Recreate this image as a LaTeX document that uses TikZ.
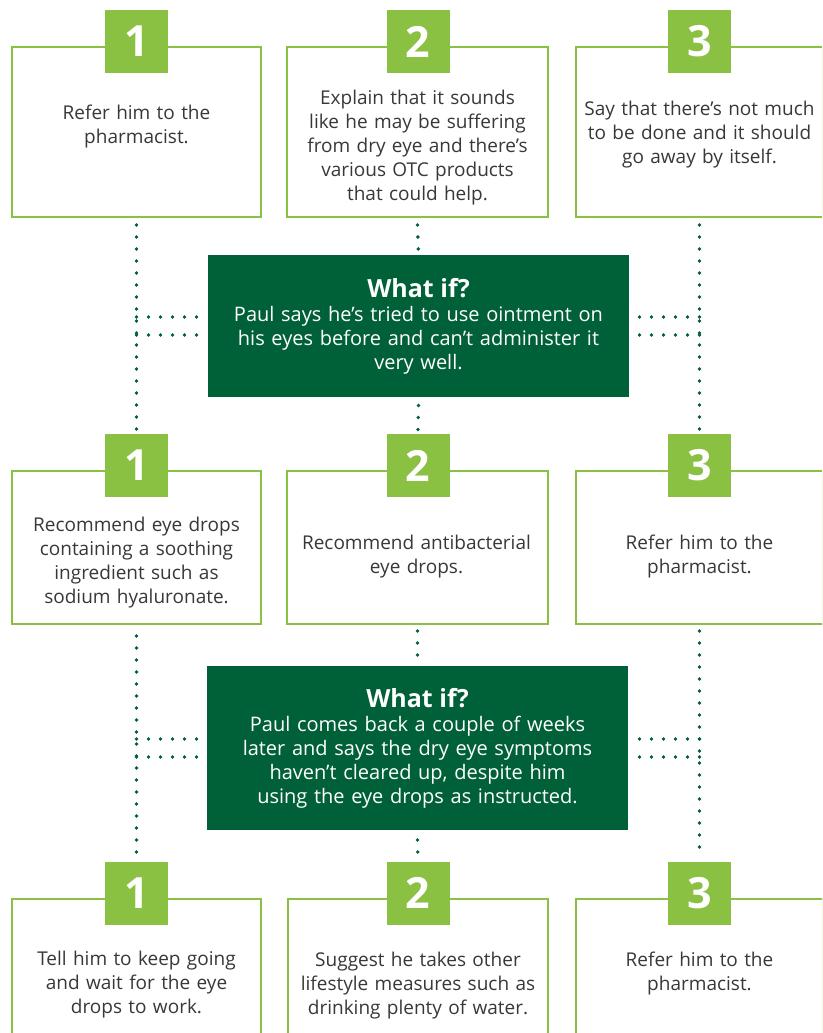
\documentclass[tikz,border=0pt]{standalone}
\usepackage{fontspec}
\setmainfont{Open Sans}
\usetikzlibrary{backgrounds}
\definecolor{lgreen}{HTML}{8BC142}
\definecolor{dgreen}{HTML}{006037}
\definecolor{tgray}{HTML}{383838}
\newcommand\whatiffont{\bfseries\fontsize{25}{25}\selectfont}
\begin{document}
\begin{tikzpicture}[x=1pt,y=-1pt,
  optbox/.style={draw=lgreen, line width=2.5pt, fill=white, inner sep=0pt, outer sep=0pt},
  numtab/.style={fill=lgreen, minimum width=63pt, minimum height=63pt, inner sep=0pt, outer sep=0pt,
    text=white, font=\bfseries\fontsize{43}{43}\selectfont},
  opttext/.style={anchor=base, text width=245pt, align=center, inner sep=0pt, text=tgray,
    font=\fontsize{19}{24}\selectfont},
  whatif/.style={fill=dgreen, minimum width=421pt, inner sep=0pt, outer sep=0pt, text=white,
    text width=415pt, align=center, font=\fontsize{20}{24}\selectfont},
  dots/.style={draw=dgreen, line width=3.9pt, line cap=round, dash pattern=on 0pt off 12pt}
]
\useasboundingbox (0,0) rectangle (822,1033);
\clip (0,0) rectangle (822,1033);

% ---------- row 1 ----------
\node[optbox, minimum width=249pt, minimum height=170pt] (b11) at (136.5,132) {};
\node[optbox, minimum width=261pt, minimum height=170pt] (b12) at (417.5,132) {};
\node[optbox, minimum width=247pt, minimum height=170pt] (b13) at (699.5,132) {};
\node[numtab] (t11) at (136.5,41.5) {1};
\node[numtab] (t12) at (418,41.5) {2};
\node[numtab] (t13) at (699.5,41.5) {3};
\node[opttext] (x11) at (136.5,119) {Refer him to the\\pharmacist.};
\node[opttext] (x12) at (417.5,104) {Explain that it sounds\\like he may be suffering\\from dry eye and there’s\\various OTC products\\that could help.};
\node[opttext] (x13) at (699.5,115) {Say that there’s not much\\to be done and it should\\go away by itself.};

% ---------- what if 1 ----------
\node[whatif, minimum height=142pt] (d1) at (418.5,326)
  {{\whatiffont What if?}\\Paul says he’s tried to use ointment on\\his eyes before and can’t administer it\\very well.};

% ---------- row 2 ----------
\node[optbox, minimum width=249pt, minimum height=153pt] (b21) at (136.5,547.5) {};
\node[optbox, minimum width=261pt, minimum height=153pt] (b22) at (417.5,547.5) {};
\node[optbox, minimum width=247pt, minimum height=153pt] (b23) at (699.5,547.5) {};
\node[numtab] (t21) at (136.5,465.5) {1};
\node[numtab] (t22) at (418,465.5) {2};
\node[numtab] (t23) at (699.5,465.5) {3};
\node[opttext] (x21) at (136.5,531) {Recommend eye drops\\containing a soothing\\ingredient such as\\sodium hyaluronate.};
\node[opttext] (x22) at (416.5,549) {Recommend antibacterial\\eye drops.};
\node[opttext] (x23) at (699.5,549) {Refer him to the\\pharmacist.};

% ---------- what if 2 ----------
\node[whatif, minimum height=164pt] (d2) at (417.5,748)
  {{\whatiffont What if?}\\Paul comes back a couple of weeks\\later and says the dry eye symptoms\\haven’t cleared up, despite him\\using the eye drops as instructed.};

% ---------- row 3 ----------
\node[optbox, minimum width=249pt, minimum height=160pt] (b31) at (136.5,979) {};
\node[optbox, minimum width=260pt, minimum height=160pt] (b32) at (418,979) {};
\node[optbox, minimum width=247pt, minimum height=160pt] (b33) at (699.5,979) {};
\node[numtab] (t31) at (136.5,893) {1};
\node[numtab] (t32) at (418,893) {2};
\node[numtab] (t33) at (699.5,893) {3};
\node[opttext] (x31) at (136.5,965) {Tell him to keep going\\and wait for the eye\\drops to work.};
\node[opttext] (x32) at (418,966.5) {Suggest he takes other\\lifestyle measures such as\\drinking plenty of water.};
\node[opttext] (x33) at (699.5,966) {Refer him to the\\pharmacist.};

% ---------- dotted connectors ----------
\begin{pgfonlayer}{background}
  \path ([yshift=9pt]d1.west) coordinate (d1wu) ([yshift=-9pt]d1.west) coordinate (d1wl)
        ([yshift=9pt]d1.east) coordinate (d1eu) ([yshift=-9pt]d1.east) coordinate (d1el)
        ([yshift=9pt]d2.west) coordinate (d2wu) ([yshift=-9pt]d2.west) coordinate (d2wl)
        ([yshift=9pt]d2.east) coordinate (d2eu) ([yshift=-9pt]d2.east) coordinate (d2el);
  % first what-if
  \draw[dots] ([yshift=-8pt]b11.south) -- ([yshift=3pt]t21.north);
  \draw[dots] ([yshift=-8pt]b13.south) -- ([yshift=3pt]t23.north);
  \draw[dots] ([yshift=-8pt]b12.south) -- (d1.north);
  \draw[dots] ([yshift=-8.5pt]d1.south) -- ([yshift=3pt]t22.north);
  \draw[dots] (d1wu -| b11.south) -- (d1wu);
  \draw[dots] (d1wl -| b11.south) -- (d1wl);
  \draw[dots] (d1eu -| b13.south) -- (d1eu);
  \draw[dots] (d1el -| b13.south) -- (d1el);
  % second what-if
  \draw[dots] ([yshift=-12pt]b21.south) -- ([yshift=3pt]t31.north);
  \draw[dots] ([yshift=-7pt]b23.south) -- ([yshift=6pt]t33.north);
  \draw[dots] ([yshift=-7pt]b22.south) -- (d2.north);
  \draw[dots] ([yshift=-10pt]d2.south) -- (t32.north);
  \draw[dots] (d2wu -| b21.south) -- (d2wu);
  \draw[dots] (d2wl -| b21.south) -- (d2wl);
  \draw[dots] (d2eu -| b23.south) -- (d2eu);
  \draw[dots] (d2el -| b23.south) -- (d2el);
\end{pgfonlayer}
\end{tikzpicture}
\end{document}
